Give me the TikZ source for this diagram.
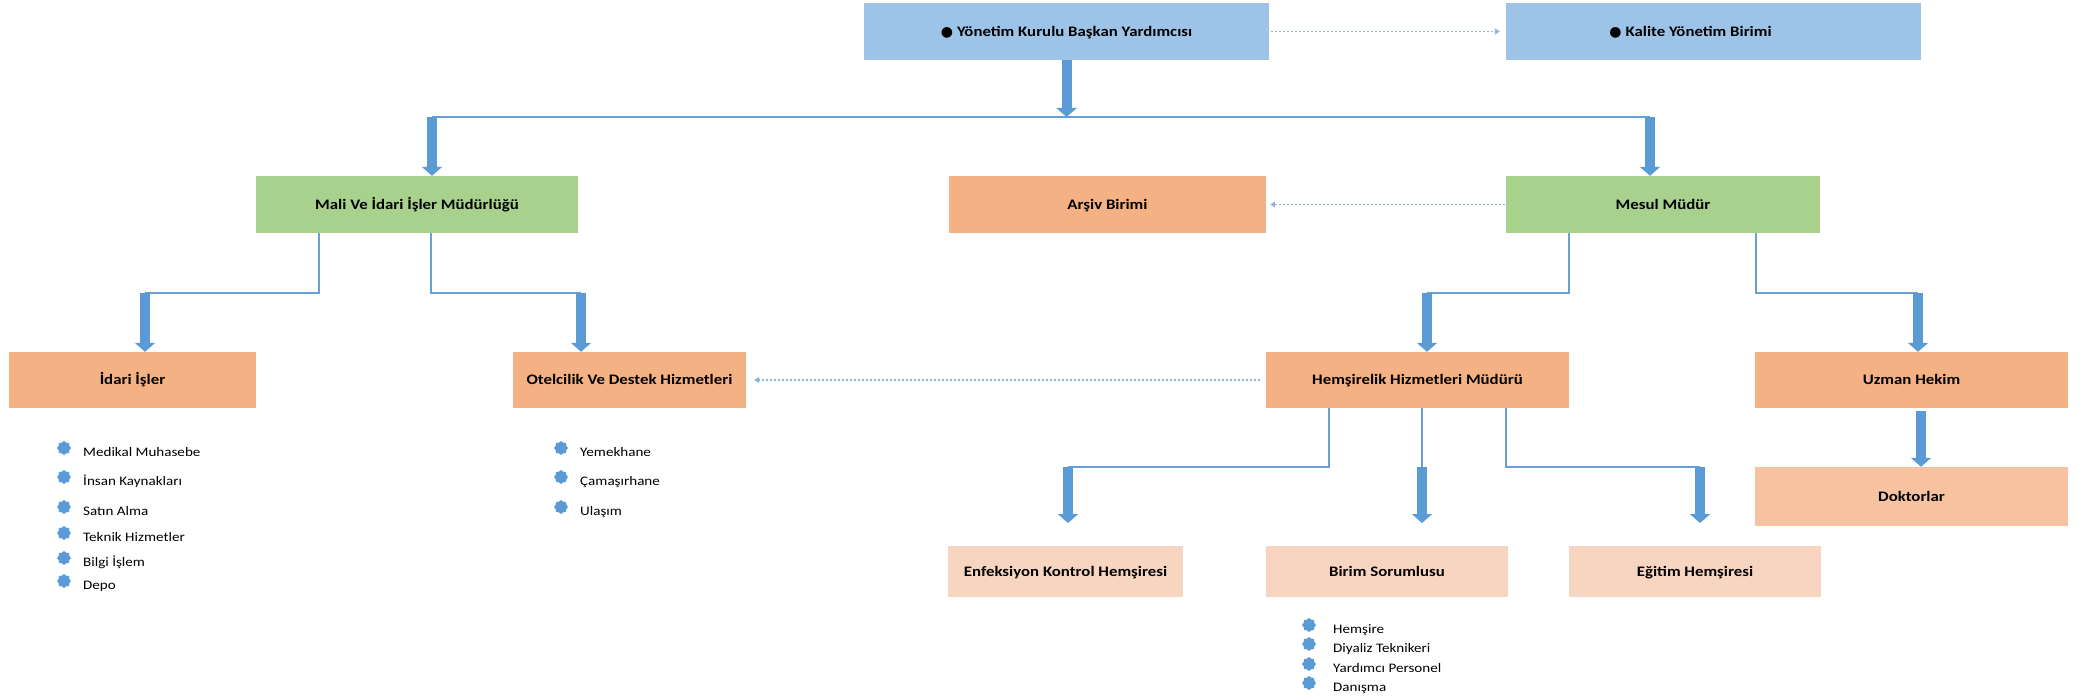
\documentclass[tikz,border=0pt]{standalone}
\usepackage{fontspec}
\setmainfont[FakeStretch=1.16]{Carlito}
\newfontfamily\symfam{DejaVu Sans}
\usetikzlibrary{arrows.meta,shapes.geometric}
\definecolor{cblue}{HTML}{9DC3E6}
\definecolor{cgreen}{HTML}{A9D18E}
\definecolor{corange}{HTML}{F4B183}
\definecolor{cdok}{HTML}{F6C29F}
\definecolor{cpeach}{HTML}{F8D5C0}
\definecolor{arrowblue}{HTML}{5B9BD5}
\definecolor{lineblue}{HTML}{6A9FD4}
\definecolor{dotblue}{HTML}{8DB3E2}
\begin{document}
\begin{tikzpicture}[x=1pt,y=-1pt,
  box/.style={rectangle, inner sep=0pt, font=\fontsize{14.5}{16}\selectfont\bfseries, text height=11pt, text depth=1.7pt},
  thickarr/.style={draw=arrowblue, line width=10pt, -{Triangle[width=20pt,length=9pt]}},
  thinline/.style={draw=lineblue, line width=2pt},
  dotarr/.style={draw=dotblue, line width=1.5pt, dash pattern=on 2pt off 2pt, -{Triangle[width=6pt,length=5pt]}},
  bul/.style={star, star points=8, star point ratio=1.22, minimum size=14pt, inner sep=0pt, fill=arrowblue},
  item/.style={anchor=base west, inner sep=0pt, font=\fontsize{13}{15}\selectfont}
]
\fill[white] (0,0) rectangle (2084,698);
\useasboundingbox (0,0) rectangle (2084,698);

% boxes
\node[box, fill=cblue, minimum width=405pt, minimum height=57pt] (yon) at (1066.5,31.5) {{\symfam\fontsize{14}{14}\selectfont●}\kern4pt Yönetim Kurulu Başkan Yardımcısı};
\node[box, fill=cblue, minimum width=415pt, minimum height=57pt] (kal) at (1713.5,31.5) {{\symfam\fontsize{14}{14}\selectfont●}\kern4pt Kalite Yönetim Birimi\kern46pt};
\node[box, fill=cgreen, minimum width=322pt, minimum height=57pt] (mali) at (417,204.5) {Mali Ve İdari İşler Müdürlüğü};
\node[box, fill=corange, minimum width=317pt, minimum height=57pt] (arsiv) at (1107.5,204.5) {Arşiv Birimi};
\node[box, fill=cgreen, minimum width=314pt, minimum height=57pt] (mesul) at (1663,204.5) {Mesul Müdür};
\node[box, fill=corange, minimum width=247pt, minimum height=56pt] (idari) at (132.5,380) {İdari İşler};
\node[box, fill=corange, minimum width=233pt, minimum height=56pt] (otel) at (629.5,380) {Otelcilik Ve Destek Hizmetleri};
\node[box, fill=corange, minimum width=303pt, minimum height=56pt] (hems) at (1417.5,380) {Hemşirelik Hizmetleri Müdürü};
\node[box, fill=corange, minimum width=313pt, minimum height=56pt] (uzman) at (1911.5,380) {Uzman Hekim};
\node[box, fill=cdok, minimum width=313pt, minimum height=59pt] (dok) at (1911.5,496.5) {Doktorlar};
\node[box, fill=cpeach, minimum width=235pt, minimum height=51pt] (enf) at (1065.5,571.5) {Enfeksiyon Kontrol Hemşiresi};
\node[box, fill=cpeach, minimum width=242pt, minimum height=51pt] (birim) at (1387,571.5) {Birim Sorumlusu};
\node[box, fill=cpeach, minimum width=252pt, minimum height=51pt] (egit) at (1695,571.5) {Eğitim Hemşiresi};

% top bus
\coordinate (busL) at (432,117);
\coordinate (busR) at (1650,117);
\draw[thinline] (busL) -- (busR);
\draw[thickarr] (yon.south) -- (yon.south |- busL);
\draw[thickarr] (busL) -- (busL |- mali.north);
\draw[thickarr] (busR) -- (busR |- mesul.north);

% Mali children
\coordinate (m1) at (319,293);
\coordinate (m2) at (431,293);
\coordinate (idA) at (145,293);
\coordinate (otA) at (581,293);
\draw[thinline] (m1 |- mali.south) -- (m1) -- (idA);
\draw[thickarr] (idA) -- (idA |- idari.north);
\draw[thinline] (m2 |- mali.south) -- (m2) -- (otA);
\draw[thickarr] (otA) -- (otA |- otel.north);

% Mesul children
\coordinate (s1) at (1569,293);
\coordinate (s2) at (1756,293);
\coordinate (heA) at (1427,293);
\coordinate (uzA) at (1918,293);
\draw[thinline] (s1 |- mesul.south) -- (s1) -- (heA);
\draw[thickarr] (heA) -- (heA |- hems.north);
\draw[thinline] (s2 |- mesul.south) -- (s2) -- (uzA);
\draw[thickarr] (uzA) -- (uzA |- uzman.north);

% Uzman -> Doktorlar
\coordinate (uzB) at (1921,411);
\draw[thickarr] (uzB) -- (uzB |- dok.north);

% Hemsirelik children
\coordinate (h1) at (1329,467);
\coordinate (h2) at (1422,467);
\coordinate (h3) at (1506,467);
\coordinate (enA) at (1068,467);
\coordinate (egA) at (1700,467);
\coordinate (enT) at (1068,523);
\coordinate (biT) at (1422,523);
\coordinate (egT) at (1700,523);
\draw[thinline] (h1 |- hems.south) -- (h1) -- (enA);
\draw[thickarr] (enA) -- (enT);
\draw[thinline] (h2 |- hems.south) -- (h2);
\draw[thickarr] (h2) -- (biT);
\draw[thinline] (h3 |- hems.south) -- (h3) -- (egA);
\draw[thickarr] (egA) -- (egT);

% dotted arrows
\draw[dotarr, shorten <=2pt, shorten >=6pt] (yon.east) -- (kal.west);
\draw[dotarr, shorten <=1pt, shorten >=4pt] (mesul.west) -- (arsiv.east);
\draw[dotarr, shorten <=6pt, shorten >=8pt] (hems.west) -- (otel.east);

% lists
\foreach \t/\y [count=\i] in {Medikal Muhasebe/452, İnsan Kaynakları/481, Satın Alma/511, Teknik Hizmetler/537, Bilgi İşlem/562, Depo/585} {
  \node[bul] (lb\i) at (64,\y-4) {};
  \node[item] (lt\i) at (83,\y+4.5) {\t};
}
\foreach \t/\y [count=\i] in {Yemekhane/452, Çamaşırhane/481, Ulaşım/511} {
  \node[bul] (rb\i) at (561,\y-4) {};
  \node[item] (rt\i) at (580,\y+4.5) {\t};
}
\foreach \t/\y [count=\i] in {Hemşire/629, Diyaliz Teknikeri/648, Yardımcı Personel/668, Danışma/687} {
  \node[bul] (hb\i) at (1309,\y-4) {};
  \node[item] (ht\i) at (1333,\y+4.5) {\t};
}
\end{tikzpicture}
\end{document}
